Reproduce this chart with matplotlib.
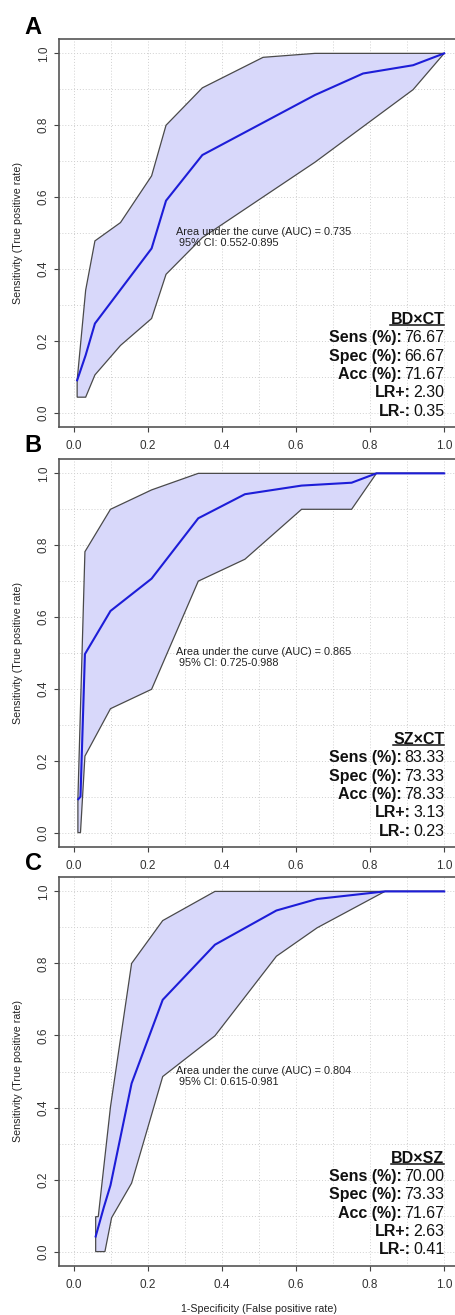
import numpy as np
import matplotlib
matplotlib.use("Agg")
import matplotlib.pyplot as plt
from matplotlib.lines import Line2D

plt.rcParams["font.family"] = ["Liberation Sans", "DejaVu Sans"]

# ROC curves (1-specificity, sensitivity)
roc_a_fpr = [0.009, 0.032, 0.057, 0.21, 0.249, 0.347, 0.651, 0.781, 0.916, 1.0]
roc_a_tpr = [0.09, 0.16, 0.248, 0.457, 0.59, 0.717, 0.884, 0.944, 0.967, 1.0]
up_a_x = [0.009, 0.032, 0.057, 0.126, 0.21, 0.249, 0.347, 0.511, 0.651, 1.0]
up_a_y = [0.09, 0.341, 0.478, 0.529, 0.659, 0.80, 0.904, 0.989, 1.0, 1.0]
lo_a_x = [0.009, 0.032, 0.057, 0.126, 0.21, 0.249, 0.347, 0.651, 0.916, 1.0]
lo_a_y = [0.043, 0.043, 0.105, 0.187, 0.262, 0.385, 0.487, 0.697, 0.899, 1.0]

roc_b_fpr = [0.012, 0.018, 0.030, 0.099, 0.21, 0.336, 0.462, 0.615, 0.75, 0.817, 1.0]
roc_b_tpr = [0.093, 0.10, 0.497, 0.617, 0.707, 0.875, 0.942, 0.966, 0.974, 1.0, 1.0]
up_b_x = [0.011, 0.011, 0.030, 0.099, 0.21, 0.336, 1.0]
up_b_y = [0.0, 0.093, 0.782, 0.90, 0.954, 1.0, 1.0]
lo_b_x = [0.011, 0.018, 0.030, 0.099, 0.21, 0.336, 0.462, 0.615, 0.75, 0.817, 1.0]
lo_b_y = [0.0, 0.0, 0.213, 0.345, 0.399, 0.70, 0.761, 0.90, 0.90, 1.0, 1.0]

roc_c_fpr = [0.059, 0.081, 0.099, 0.156, 0.24, 0.381, 0.547, 0.657, 0.84, 1.0]
roc_c_tpr = [0.042, 0.123, 0.184, 0.467, 0.699, 0.852, 0.947, 0.979, 1.0, 1.0]
up_c_x = [0.059, 0.059, 0.066, 0.099, 0.156, 0.24, 0.381, 1.0]
up_c_y = [0.0, 0.097, 0.097, 0.402, 0.80, 0.919, 1.0, 1.0]
lo_c_x = [0.059, 0.084, 0.102, 0.156, 0.24, 0.381, 0.547, 0.657, 0.84, 1.0]
lo_c_y = [0.0, 0.0, 0.094, 0.19, 0.486, 0.599, 0.82, 0.899, 1.0, 1.0]

panel_letters = ["A", "B", "C"]
comparisons = ["BD×CT", "SZ×CT", "BD×SZ"]
auc_values = ["0.735", "0.865", "0.804"]
auc_ci = ["0.552-0.895", "0.725-0.988", "0.615-0.981"]
stat_labels = ["Sens (%):", "Spec (%):", "Acc (%):", "LR+:", "LR-:"]
stat_a = ["76.67", "66.67", "71.67", "2.30", "0.35"]
stat_b = ["83.33", "73.33", "78.33", "3.13", "0.23"]
stat_c = ["70.00", "73.33", "71.67", "2.63", "0.41"]

panels = [
    (roc_a_fpr, roc_a_tpr, up_a_x, up_a_y, lo_a_x, lo_a_y, stat_a),
    (roc_b_fpr, roc_b_tpr, up_b_x, up_b_y, lo_b_x, lo_b_y, stat_b),
    (roc_c_fpr, roc_c_tpr, up_c_x, up_c_y, lo_c_x, lo_c_y, stat_c),
]

W, H = 455, 1315
fig = plt.figure(figsize=(W / 100, H / 100), dpi=100)

# axes boxes in pixels: (top, bottom)
boxes = [(39, 427), (459, 847), (877, 1266)]
letter_y = [27, 445, 863]

axes = []
underline_texts = []
for i, (fpr, tpr, ux, uy, lx, ly, stats) in enumerate(panels):
    top, bottom = boxes[i]
    ax = fig.add_axes([59 / W, 1 - bottom / H, 400 / W, (bottom - top) / H])
    axes.append(ax)
    ax.set_xlim(-0.04, 1.04)
    ax.set_ylim(-0.04, 1.04)

    # grid
    for g in np.arange(0, 1.01, 0.1):
        ax.axvline(g, color="#d0d0d0", lw=0.7, ls=(0, (1, 2)), zorder=0)
        ax.axhline(g, color="#d0d0d0", lw=0.7, ls=(0, (1, 2)), zorder=0)

    # confidence band
    px = list(ux) + list(lx)[::-1]
    py = list(uy) + list(ly)[::-1]
    ax.fill(px, py, facecolor="#d8d8fa", edgecolor="#4a4a4a", lw=0.9, zorder=1)
    ax.plot(fpr, tpr, color="#1d1dd8", lw=1.5, zorder=2)

    # auc text
    ax.text(0.277, 0.487,
            "Area under the curve (AUC) = %s\n 95%% CI: %s" % (auc_values[i], auc_ci[i]),
            fontsize=7.8, color="#222222", ha="left", va="center", linespacing=1.15)

    # stats block
    fs = 11.5
    ys = [0.247, 0.196, 0.145, 0.094, 0.043, -0.008]
    head = ax.text(1.0, ys[0], comparisons[i], fontsize=fs, fontweight="bold",
                   ha="right", va="baseline", color="#111111")
    underline_texts.append((ax, head))
    for lab, val, yy in zip(stat_labels, stats, ys[1:]):
        tv = ax.text(1.0, yy, val, fontsize=fs, ha="right", va="baseline", color="#111111")
        ax.annotate(lab, xy=(0, 0), xycoords=tv, xytext=(-1.5, 0),
                    textcoords="offset points", fontsize=fs, fontweight="bold",
                    ha="right", va="bottom", color="#111111")

    # axes styling
    ax.set_xticks(np.arange(0, 1.01, 0.2))
    ax.set_yticks(np.arange(0, 1.01, 0.2))
    ax.set_xticklabels(["%.1f" % v for v in np.arange(0, 1.01, 0.2)])
    ax.set_yticklabels(["%.1f" % v for v in np.arange(0, 1.01, 0.2)], rotation=90, va="center")
    ax.tick_params(length=3.6, width=0.8, color="#444444", labelsize=8.5,
                   labelcolor="#333333")
    ax.tick_params(axis="x", pad=5.5)
    ax.tick_params(axis="y", pad=3)
    for sp in ax.spines.values():
        sp.set_color("#555555")
        sp.set_linewidth(1.2)

    ax.set_ylabel("Sensitivity (True positive rate)", fontsize=7.7, color="#222222", va="center")
    ax.yaxis.set_label_coords((18 - 59) / 400, 0.5)

    fig.text(33 / W, 1 - letter_y[i] / H, panel_letters[i], fontsize=17,
             fontweight="bold", ha="center", va="center")

axes[2].set_xlabel("1-Specificity (False positive rate)", fontsize=7.7, color="#222222", va="center")
axes[2].xaxis.set_label_coords(0.5, (1266 - 1309) / 389)

# underline the comparison headers
fig.canvas.draw()
renderer = fig.canvas.get_renderer()
inv = fig.transFigure.inverted()
for ax, t in underline_texts:
    bb = t.get_window_extent(renderer)
    (x0, y0), (x1, _) = inv.transform([(bb.x0, bb.y0 + 2.0), (bb.x1, bb.y0 + 2.0)])
    fig.add_artist(Line2D([x0, x1], [y0, y0], transform=fig.transFigure,
                          color="#111111", lw=1.1))

fig.savefig("out.png", dpi=100)
